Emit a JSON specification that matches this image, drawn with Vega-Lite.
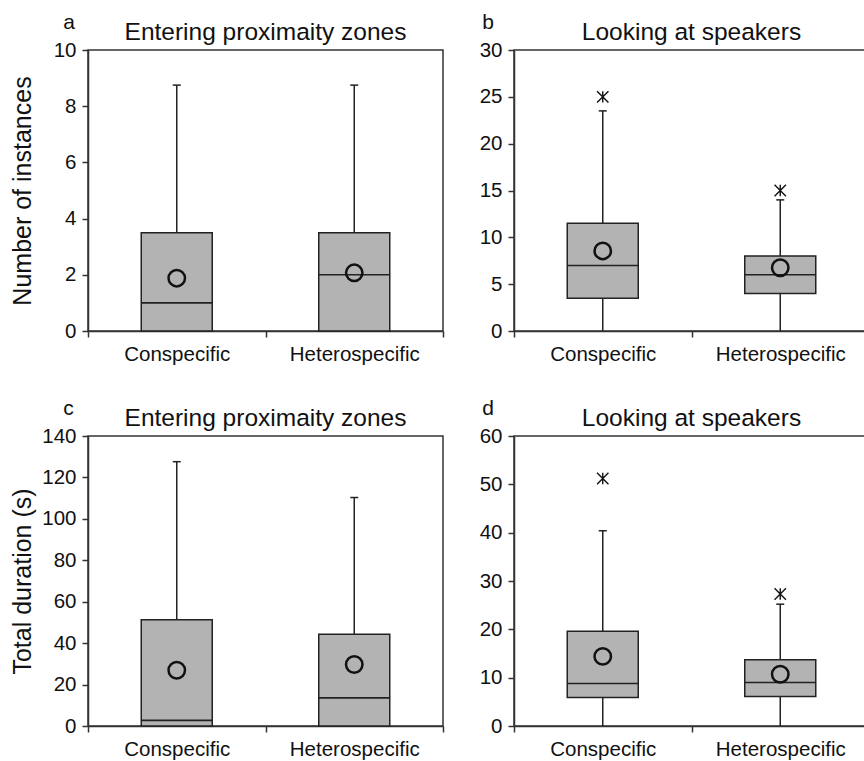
{
  "$schema": "https://vega.github.io/schema/vega-lite/v6.json",
  "padding": {"left": 9, "top": 11, "right": 0, "bottom": 0},
  "background": "white",
  "spacing": 31,
  "config": {
    "font": "Liberation Sans",
    "view": {"stroke": "#333", "strokeWidth": 1.5},
    "axis": {"domainColor": "#333", "domainWidth": 1.5, "tickColor": "#333", "tickWidth": 1.5, "labelColor": "#111", "titleColor": "#111", "grid": false, "labelFontSize": 20.5, "titleFontSize": 25, "titleFontWeight": "normal"},
    "axisY": {"tickSize": 6, "labelPadding": 6, "minExtent": 46, "maxExtent": 46, "titlePadding": 7},
    "axisX": {"tickSize": 6, "labelPadding": 7, "labelAngle": 0, "tickBand": "extent"},
    "title": {"fontSize": 24.5, "fontWeight": "normal", "color": "#111", "offset": -5},
    "tick": {"opacity": 1},
    "concat": {"spacing": 22}
  },
  "vconcat": [
    {
      "hconcat": [
        {
          "title": {"text": "a", "anchor": "start", "offset": -14, "dx": 54, "fontSize": 21},
          "vconcat": [
            {
              "width": 355, "height": 281,
              "title": {"text": "Entering proximaity zones"},
              "data": {"values": [
                {"cat": "Conspecific", "lo": 0, "q1": 0, "med": 1, "q3": 3.5, "hi": 8.75, "mean": 1.88},
                {"cat": "Heterospecific", "lo": 0, "q1": 0, "med": 2, "q3": 3.5, "hi": 8.75, "mean": 2.07}
              ]},
              "encoding": {"x": {"field": "cat", "type": "nominal", "sort": null, "title": null, "scale": {"paddingInner": 0, "paddingOuter": 0}}},
              "layer": [
                {"mark": {"type": "rule", "color": "#222", "strokeWidth": 1.5},
                 "encoding": {"y": {"field": "lo", "type": "quantitative", "title": "Number of instances", "scale": {"domain": [0, 10], "nice": false}, "axis": {"values": [0, 2, 4, 6, 8, 10]}}, "y2": {"field": "hi"}}},
                {"mark": {"type": "tick", "color": "#222", "size": 8, "thickness": 1.5, "opacity": 1},
                 "encoding": {"y": {"field": "hi", "type": "quantitative", "title": "Number of instances"}}},
                {"mark": {"type": "bar", "fill": "#b3b3b3", "stroke": "#222", "strokeWidth": 1.5, "width": {"band": 0.4}},
                 "encoding": {"y": {"field": "q1", "type": "quantitative", "title": "Number of instances"}, "y2": {"field": "q3"}}},
                {"mark": {"type": "tick", "color": "#222", "size": 71, "thickness": 1.6, "opacity": 1},
                 "encoding": {"y": {"field": "med", "type": "quantitative", "title": "Number of instances"}}},
                {"mark": {"type": "point", "shape": "circle", "filled": false, "size": 270, "stroke": "#111", "strokeWidth": 2.5, "opacity": 1},
                 "encoding": {"y": {"field": "mean", "type": "quantitative", "title": "Number of instances"}}}
              ]
            }
          ]
        },
        {
          "title": {"text": "b", "anchor": "start", "offset": -14, "dx": 15, "fontSize": 21},
          "vconcat": [
            {
              "width": 355, "height": 281,
              "title": {"text": "Looking at speakers"},
              "data": {"values": [
                {"cat": "Conspecific", "lo": 0, "q1": 3.5, "med": 7, "q3": 11.5, "hi": 23.5, "mean": 8.55, "out": 25},
                {"cat": "Heterospecific", "lo": 0, "q1": 4, "med": 6, "q3": 8, "hi": 14, "mean": 6.75, "out": 15}
              ]},
              "encoding": {"x": {"field": "cat", "type": "nominal", "sort": null, "title": null, "scale": {"paddingInner": 0, "paddingOuter": 0}}},
              "layer": [
                {"mark": {"type": "rule", "color": "#222", "strokeWidth": 1.5},
                 "encoding": {"y": {"field": "lo", "type": "quantitative", "title": null, "scale": {"domain": [0, 30], "nice": false}, "axis": {"values": [0, 5, 10, 15, 20, 25, 30]}}, "y2": {"field": "hi"}}},
                {"mark": {"type": "tick", "color": "#222", "size": 8, "thickness": 1.5, "opacity": 1},
                 "encoding": {"y": {"field": "hi", "type": "quantitative", "title": null}}},
                {"mark": {"type": "bar", "fill": "#b3b3b3", "stroke": "#222", "strokeWidth": 1.5, "width": {"band": 0.4}},
                 "encoding": {"y": {"field": "q1", "type": "quantitative", "title": null}, "y2": {"field": "q3"}}},
                {"mark": {"type": "tick", "color": "#222", "size": 71, "thickness": 1.6, "opacity": 1},
                 "encoding": {"y": {"field": "med", "type": "quantitative", "title": null}}},
                {"mark": {"type": "point", "shape": "circle", "filled": false, "size": 270, "stroke": "#111", "strokeWidth": 2.5, "opacity": 1},
                 "encoding": {"y": {"field": "mean", "type": "quantitative", "title": null}}},
                {"mark": {"type": "point", "shape": "M-1,-1L1,1M-1,1L1,-1M0,-1L0,1", "filled": false, "size": 130, "stroke": "#111", "strokeWidth": 1.4, "opacity": 1},
                 "encoding": {"y": {"field": "out", "type": "quantitative", "title": null}}}
              ]
            }
          ]
        }
      ]
    },
    {
      "hconcat": [
        {
          "title": {"text": "c", "anchor": "start", "offset": -14, "dx": 54, "fontSize": 21},
          "vconcat": [
            {
              "width": 355, "height": 290,
              "title": {"text": "Entering proximaity zones"},
              "data": {"values": [
                {"cat": "Conspecific", "lo": 0, "q1": 0, "med": 2.7, "q3": 51.3, "hi": 127.6, "mean": 26.9},
                {"cat": "Heterospecific", "lo": 0, "q1": 0, "med": 13.6, "q3": 44.3, "hi": 110.3, "mean": 29.7}
              ]},
              "encoding": {"x": {"field": "cat", "type": "nominal", "sort": null, "title": null, "scale": {"paddingInner": 0, "paddingOuter": 0}}},
              "layer": [
                {"mark": {"type": "rule", "color": "#222", "strokeWidth": 1.5},
                 "encoding": {"y": {"field": "lo", "type": "quantitative", "title": "Total duration (s)", "scale": {"domain": [0, 140], "nice": false}, "axis": {"values": [0, 20, 40, 60, 80, 100, 120, 140]}}, "y2": {"field": "hi"}}},
                {"mark": {"type": "tick", "color": "#222", "size": 8, "thickness": 1.5, "opacity": 1},
                 "encoding": {"y": {"field": "hi", "type": "quantitative", "title": "Total duration (s)"}}},
                {"mark": {"type": "bar", "fill": "#b3b3b3", "stroke": "#222", "strokeWidth": 1.5, "width": {"band": 0.4}},
                 "encoding": {"y": {"field": "q1", "type": "quantitative", "title": "Total duration (s)"}, "y2": {"field": "q3"}}},
                {"mark": {"type": "tick", "color": "#222", "size": 71, "thickness": 1.6, "opacity": 1},
                 "encoding": {"y": {"field": "med", "type": "quantitative", "title": "Total duration (s)"}}},
                {"mark": {"type": "point", "shape": "circle", "filled": false, "size": 270, "stroke": "#111", "strokeWidth": 2.5, "opacity": 1},
                 "encoding": {"y": {"field": "mean", "type": "quantitative", "title": "Total duration (s)"}}}
              ]
            }
          ]
        },
        {
          "title": {"text": "d", "anchor": "start", "offset": -14, "dx": 15, "fontSize": 21},
          "vconcat": [
            {
              "width": 355, "height": 290,
              "title": {"text": "Looking at speakers"},
              "data": {"values": [
                {"cat": "Conspecific", "lo": 0, "q1": 5.9, "med": 8.8, "q3": 19.6, "hi": 40.4, "mean": 14.4, "out": 51.2},
                {"cat": "Heterospecific", "lo": 0, "q1": 6.1, "med": 9, "q3": 13.7, "hi": 25.2, "mean": 10.7, "out": 27.3}
              ]},
              "encoding": {"x": {"field": "cat", "type": "nominal", "sort": null, "title": null, "scale": {"paddingInner": 0, "paddingOuter": 0}}},
              "layer": [
                {"mark": {"type": "rule", "color": "#222", "strokeWidth": 1.5},
                 "encoding": {"y": {"field": "lo", "type": "quantitative", "title": null, "scale": {"domain": [0, 60], "nice": false}, "axis": {"values": [0, 10, 20, 30, 40, 50, 60]}}, "y2": {"field": "hi"}}},
                {"mark": {"type": "tick", "color": "#222", "size": 8, "thickness": 1.5, "opacity": 1},
                 "encoding": {"y": {"field": "hi", "type": "quantitative", "title": null}}},
                {"mark": {"type": "bar", "fill": "#b3b3b3", "stroke": "#222", "strokeWidth": 1.5, "width": {"band": 0.4}},
                 "encoding": {"y": {"field": "q1", "type": "quantitative", "title": null}, "y2": {"field": "q3"}}},
                {"mark": {"type": "tick", "color": "#222", "size": 71, "thickness": 1.6, "opacity": 1},
                 "encoding": {"y": {"field": "med", "type": "quantitative", "title": null}}},
                {"mark": {"type": "point", "shape": "circle", "filled": false, "size": 270, "stroke": "#111", "strokeWidth": 2.5, "opacity": 1},
                 "encoding": {"y": {"field": "mean", "type": "quantitative", "title": null}}},
                {"mark": {"type": "point", "shape": "M-1,-1L1,1M-1,1L1,-1M0,-1L0,1", "filled": false, "size": 130, "stroke": "#111", "strokeWidth": 1.4, "opacity": 1},
                 "encoding": {"y": {"field": "out", "type": "quantitative", "title": null}}}
              ]
            }
          ]
        }
      ]
    }
  ]
}
